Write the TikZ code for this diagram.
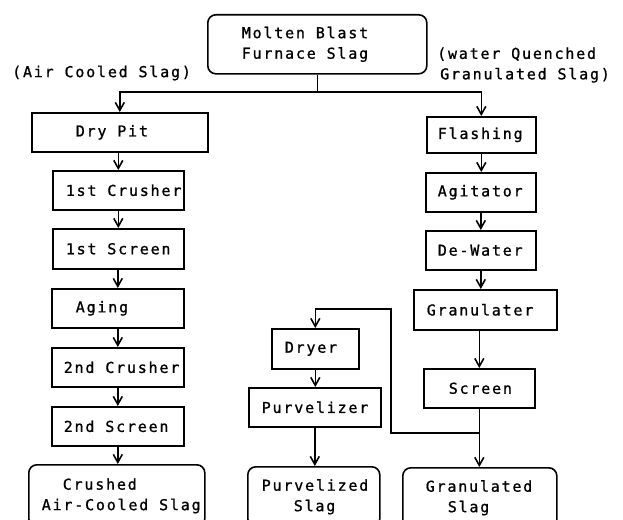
\documentclass[tikz,border=0pt]{standalone}
\usepackage{fontspec}
\setmonofont[LetterSpace=12,FakeBold=1]{DejaVu Sans Mono}
\usetikzlibrary{arrows.meta}
\newcommand\bxt[2]{\rlap{\spaceskip=0pt\xspaceskip=0pt\hspace*{#1pt}#2}}
\begin{document}
\begin{tikzpicture}[x=1pt,y=-1pt,
  every node/.style={font=\fontsize{15pt}{20.5pt}\selectfont\ttfamily},
  box/.style={draw, line width=1.6pt, anchor=north west, align=left,
    inner xsep=0pt, inner ysep=0pt},
  rbox/.style={box, rounded corners=8pt},
  lbl/.style={inner sep=0pt, align=left, anchor=west},
  ln/.style={line width=1.6pt},
  arr/.style={line width=1.6pt, -{Straight Barb[length=8pt,width=9pt,line width=1.6pt]}}]
\useasboundingbox (0,0) rectangle (623,519);
\clip (0,0) rectangle (623,519);
% top
\node[rbox, text width=219pt, minimum height=59pt] (top) at (207,14)
  {\bxt{34}{Molten Blast}\\\bxt{34}{Furnace Slag}};
\node[lbl] (air) at (12,73) {(Air Cooled Slag)};
\node[lbl] (wq) at (437,65) {(water Quenched\\\hspace*{3pt}Granulated Slag)};
% left column
\node[box, text width=176pt, minimum height=39pt] (dry) at (31,112) {\bxt{44}{Dry Pit}};
\node[box, text width=131pt, minimum height=39pt] (c1) at (52,170) {\bxt{13}{1st Crusher}};
\node[box, text width=131pt, minimum height=40pt] (s1) at (52,228) {\bxt{13}{1st Screen}};
\node[box, text width=132pt, minimum height=39pt] (ag) at (51,288) {\bxt{24}{Aging}};
\node[box, text width=132pt, minimum height=39pt] (c2) at (51,347) {\bxt{12}{2nd Crusher}};
\node[box, text width=132pt, minimum height=39pt] (s2) at (51,406) {\bxt{12}{2nd Screen}};
\node[rbox, text width=176pt, minimum height=62pt] (cr) at (28,464)
  {\bxt{34}{Crushed}\\\bxt{13}{Air-Cooled Slag}};
% right column
\node[box, text width=109pt, minimum height=36pt] (fl) at (426,116) {\bxt{11}{Flashing}};
\node[box, text width=110pt, minimum height=39pt] (agt) at (425,172) {\bxt{12}{Agitator}};
\node[box, text width=110pt, minimum height=39pt] (dw) at (425,230) {\bxt{12}{De-Water}};
\node[box, text width=143pt, minimum height=40pt] (gr) at (413,289) {\bxt{13}{Granulater}};
\node[box, text width=111pt, minimum height=39pt] (sc) at (423,368) {\bxt{25}{Screen}};
\node[rbox, text width=154pt, minimum height=60pt] (gs) at (402,467)
  {\bxt{23}{Granulated}\\\bxt{45}{Slag}};
% middle column
\node[box, text width=87pt, minimum height=40pt] (dr) at (271,328) {\bxt{13}{Dryer}};
\node[box, text width=132pt, minimum height=39pt] (pv) at (248,387) {\bxt{13}{Purvelizer}};
\node[rbox, text width=132pt, minimum height=60pt] (ps) at (247,466)
  {\bxt{14}{Purvelized}\\\bxt{46}{Slag}};
% connectors
\coordinate (j) at (top.south |- 0,92);
\draw[ln] (top.south) -- (j);
\draw[arr] (j) -| (dry.north);
\draw[arr] (j) -| (fl.north);
\draw[arr] (c1.north |- dry.south) -- (c1.north);
\draw[arr] (s1.south |- c1.south) -- (s1.north);
\draw[arr] (ag.north |- s1.south) -- (ag.north);
\draw[arr] (ag.south) -- (c2.north);
\draw[arr] (c2.south) -- (s2.north);
\draw[arr] (s2.south) -- (s2.south |- cr.north);
\draw[arr] (fl.south) -- (fl.south |- agt.north);
\draw[arr] (agt.south) -- (dw.north);
\draw[arr] (dw.south) -- (dw.south |- gr.north);
\draw[arr] (sc.north |- gr.south) -- (sc.north);
\draw[arr] (sc.south) -- (sc.south |- gs.north);
\coordinate (r1) at (sc.south |- 0,433);
\coordinate (r2) at (391,309);
\draw[arr] (r1) -| (r2) -| (dr.north);
\draw[arr] (dr.south) -- (dr.south |- pv.north);
\draw[arr] (pv.south) -- (pv.south |- ps.north);
\end{tikzpicture}
\end{document}
